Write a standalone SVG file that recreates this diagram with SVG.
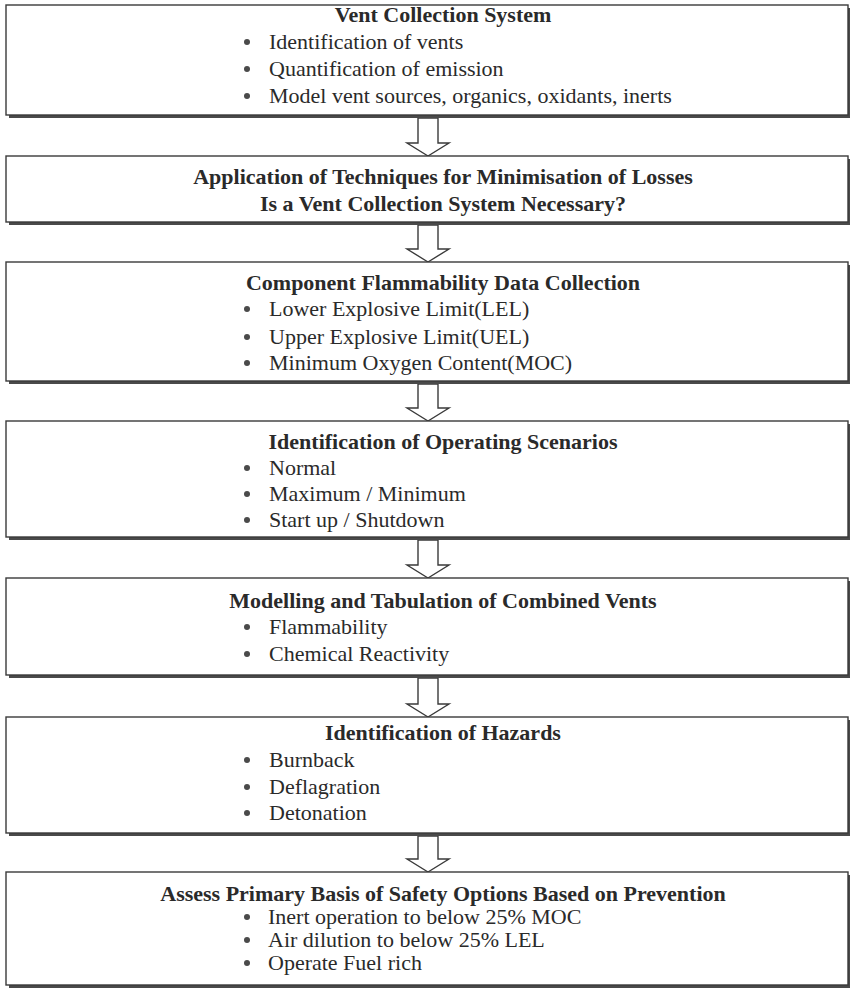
<svg xmlns="http://www.w3.org/2000/svg" width="850" height="989" viewBox="0 0 850 989">
<style>
.bg{fill:#ffffff}
.shadow{fill:#4a4a4a}
.box{fill:#ffffff;stroke:#3a3a3a;stroke-width:1.4}
.title{font-family:"Liberation Serif","Times New Roman",serif;font-size:22px;font-weight:bold;fill:#2a2a2a;text-anchor:middle}
.item{font-family:"Liberation Serif","Times New Roman",serif;font-size:22px;fill:#2a2a2a}
.dot{fill:#4a4a4a}
.arrow{fill:#ffffff;stroke:#3a3a3a;stroke-width:1.4;stroke-linejoin:miter}
</style>
<rect class="bg" x="0" y="0" width="850" height="989"/>

<g id="connectors">
  <polygon class="arrow" points="418,118 438,118 438,143 449,143 428,156 407,143 418,143"/>
  <polygon class="arrow" points="418,225 438,225 438,249 449,249 428,262 407,249 418,249"/>
  <polygon class="arrow" points="418,384 438,384 438,408 449,408 428,421 407,408 418,408"/>
  <polygon class="arrow" points="418,540 438,540 438,565 449,565 428,578 407,565 418,565"/>
  <polygon class="arrow" points="418,678 438,678 438,704 449,704 428,717 407,704 418,704"/>
  <polygon class="arrow" points="418,836 438,836 438,859 449,859 428,872 407,859 418,859"/>
</g>

<g id="node1">
  <rect class="shadow" x="9" y="8" width="842" height="110"/>
  <rect class="box" x="6" y="5" width="842" height="110"/>
  <text class="title" x="443" y="22">Vent Collection System</text>
  <circle class="dot" cx="247" cy="42" r="3"/>
  <text class="item" x="269" y="49">Identification of vents</text>
  <circle class="dot" cx="247" cy="69" r="3"/>
  <text class="item" x="269" y="76">Quantification of emission</text>
  <circle class="dot" cx="247" cy="96" r="3"/>
  <text class="item" x="269" y="103">Model vent sources, organics, oxidants, inerts</text>
</g>

<g id="node2">
  <rect class="shadow" x="9" y="159" width="842" height="66"/>
  <rect class="box" x="6" y="156" width="842" height="66"/>
  <text class="title" x="443" y="184">Application of Techniques for Minimisation of Losses</text>
  <text class="title" x="443" y="211">Is a Vent Collection System Necessary?</text>
</g>

<g id="node3">
  <rect class="shadow" x="9" y="265" width="842" height="119"/>
  <rect class="box" x="6" y="262" width="842" height="119"/>
  <text class="title" x="443" y="290">Component Flammability Data Collection</text>
  <circle class="dot" cx="247" cy="309" r="3"/>
  <text class="item" x="269" y="316">Lower Explosive Limit(LEL)</text>
  <circle class="dot" cx="247" cy="337" r="3"/>
  <text class="item" x="269" y="344">Upper Explosive Limit(UEL)</text>
  <circle class="dot" cx="247" cy="363" r="3"/>
  <text class="item" x="269" y="370">Minimum Oxygen Content(MOC)</text>
</g>

<g id="node4">
  <rect class="shadow" x="9" y="424" width="842" height="116"/>
  <rect class="box" x="6" y="421" width="842" height="116"/>
  <text class="title" x="443" y="449">Identification of Operating Scenarios</text>
  <circle class="dot" cx="247" cy="468" r="3"/>
  <text class="item" x="269" y="475">Normal</text>
  <circle class="dot" cx="247" cy="494" r="3"/>
  <text class="item" x="269" y="501">Maximum / Minimum</text>
  <circle class="dot" cx="247" cy="520" r="3"/>
  <text class="item" x="269" y="527">Start up / Shutdown</text>
</g>

<g id="node5">
  <rect class="shadow" x="9" y="581" width="842" height="97"/>
  <rect class="box" x="6" y="578" width="842" height="97"/>
  <text class="title" x="443" y="608">Modelling and Tabulation of Combined Vents</text>
  <circle class="dot" cx="247" cy="627" r="3"/>
  <text class="item" x="269" y="634">Flammability</text>
  <circle class="dot" cx="247" cy="654" r="3"/>
  <text class="item" x="269" y="661">Chemical Reactivity</text>
</g>

<g id="node6">
  <rect class="shadow" x="9" y="720" width="842" height="116"/>
  <rect class="box" x="6" y="717" width="842" height="116"/>
  <text class="title" x="443" y="740">Identification of Hazards</text>
  <circle class="dot" cx="247" cy="760" r="3"/>
  <text class="item" x="269" y="767">Burnback</text>
  <circle class="dot" cx="247" cy="787" r="3"/>
  <text class="item" x="269" y="794">Deflagration</text>
  <circle class="dot" cx="247" cy="813" r="3"/>
  <text class="item" x="269" y="820">Detonation</text>
</g>

<g id="node7">
  <rect class="shadow" x="9" y="875" width="842" height="113"/>
  <rect class="box" x="6" y="872" width="842" height="113"/>
  <text class="title" x="443" y="901">Assess Primary Basis of Safety Options Based on Prevention</text>
  <circle class="dot" cx="247" cy="917" r="3"/>
  <text class="item" x="268" y="924">Inert operation to below 25% MOC</text>
  <circle class="dot" cx="247" cy="940" r="3"/>
  <text class="item" x="268" y="947">Air dilution to below 25% LEL</text>
  <circle class="dot" cx="247" cy="963" r="3"/>
  <text class="item" x="268" y="970">Operate Fuel rich</text>
</g>
</svg>
